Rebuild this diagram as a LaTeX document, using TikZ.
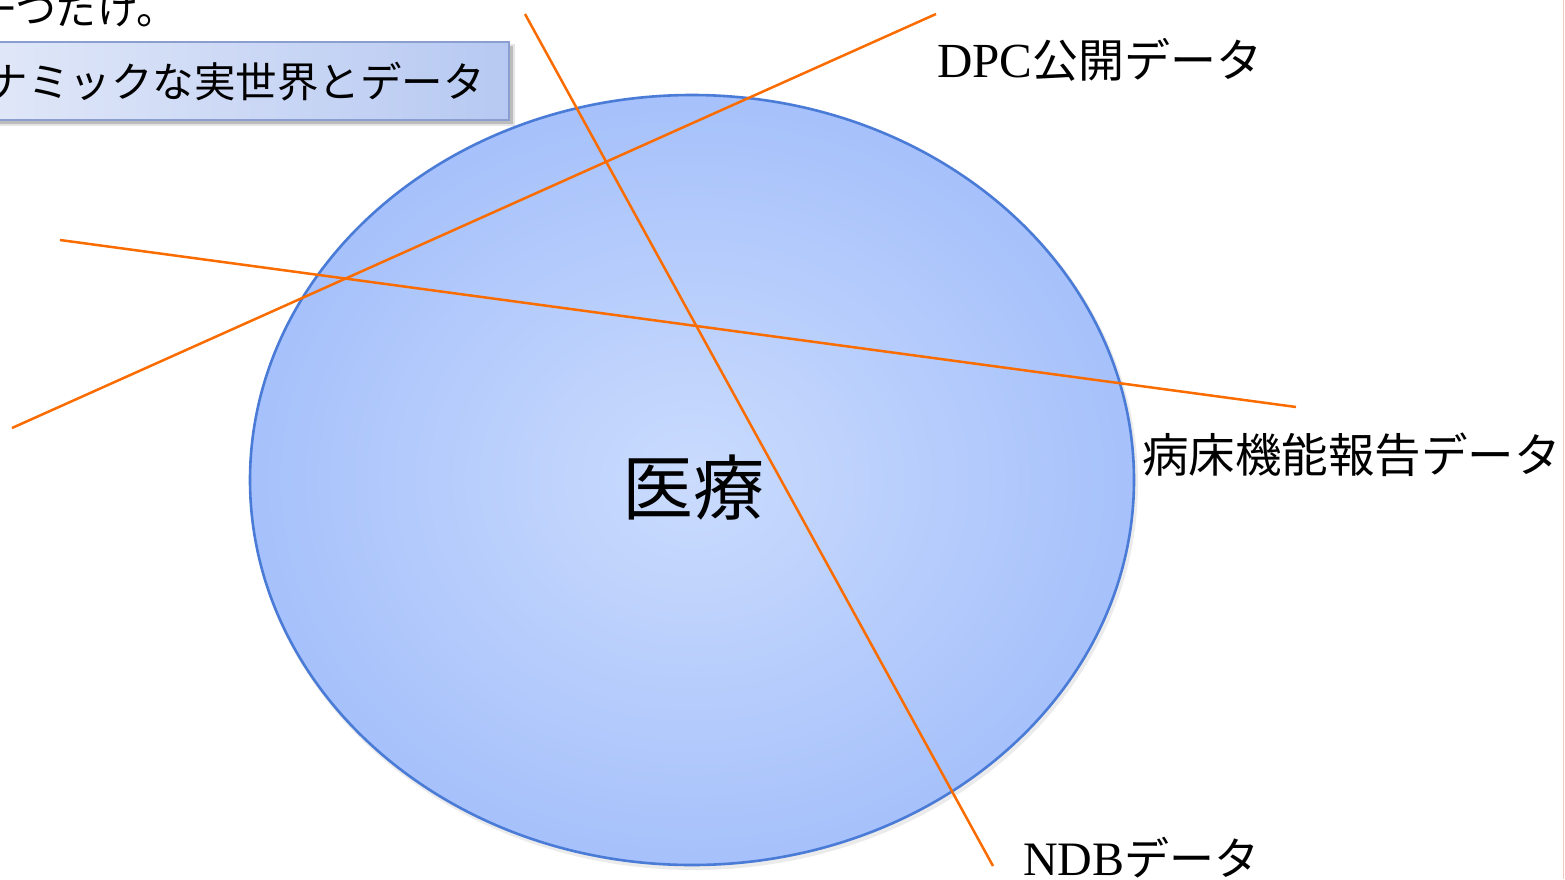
\documentclass[tikz,border=0pt]{standalone}
\usepackage{fontspec}
\setmainfont{Liberation Serif}
\newfontfamily\cjk{Noto Sans CJK JP}
\definecolor{ellfill}{RGB}{166,193,251}
\definecolor{ellin}{RGB}{202,219,253}
\definecolor{elldraw}{RGB}{74,123,214}
\definecolor{cutline}{RGB}{250,108,0}
\definecolor{boxleft}{RGB}{224,231,248}
\definecolor{boxright}{RGB}{183,201,242}
\definecolor{boxdraw}{RGB}{138,158,207}
\definecolor{edgepink}{RGB}{240,200,190}
\tikzset{
  cutter/.style={draw=cutline, line width=2.5pt},
  lbl/.style={inner sep=0pt, font=\fontsize{45}{50}\selectfont},
}
\begin{document}
\begin{tikzpicture}[x=1pt,y=-1pt]
\useasboundingbox (0,0) rectangle (1565,879);
\begin{scope}
\clip (0,0) rectangle (1565,879);
% top cut-off text
\node[lbl, anchor=east] (toptext) at (178,10) {\fontsize{41}{46}\selectfont\cjk 一つだけ。};
% box
\fill[black, opacity=0.18] (-10,46) rectangle (513,124);
\fill[black, opacity=0.10] (-10,44) rectangle (515,126);
\draw[boxdraw, line width=2pt, left color=boxleft, right color=boxright] (-10,42) rectangle (509,120);
\node[lbl, anchor=east] (boxtext) at (485,82) {\fontsize{41.5}{46}\selectfont\cjk ナミックな実世界とデータ};
% ellipse shadow
\fill[black, opacity=0.08] (694,483) ellipse [x radius=444, y radius=387];
% ellipse
\path[draw=elldraw, line width=2.6pt, inner color=ellin, outer color=ellfill]
  (692,480) ellipse [x radius=442, y radius=385];
\node[inner sep=0pt, font=\fontsize{71}{75}\selectfont\cjk] (iryo) at (693,488) {医療};
% lines
\coordinate (ndbA) at (525,14);
\coordinate (ndbB) at (993,866);
\coordinate (dpcA) at (12,428);
\coordinate (dpcB) at (936,14);
\coordinate (bedA) at (60,240);
\coordinate (bedB) at (1296,407);
\draw[cutter] (ndbA) -- (ndbB);
\draw[cutter] (dpcA) -- (dpcB);
\draw[cutter] (bedA) -- (bedB);
% labels
\node[lbl, anchor=west] (dpc) at (937,60) {\fontsize{49}{50}\selectfont DPC\fontsize{46}{50}\selectfont\cjk 公開データ};
\node[lbl, anchor=west] (bed) at (1142,455) {\fontsize{46.5}{50}\selectfont\cjk 病床機能報告データ};
\node[lbl, anchor=west] (ndb) at (1023,858) {\fontsize{48}{50}\selectfont NDB\fontsize{45}{50}\selectfont\cjk データ};
\draw[edgepink, line width=1.5pt] (1563.5,0) -- (1563.5,879);
\end{scope}
\end{tikzpicture}
\end{document}
